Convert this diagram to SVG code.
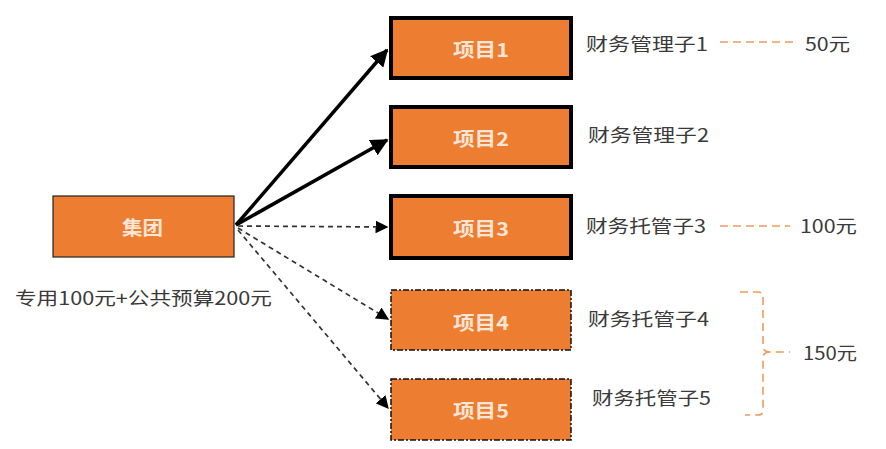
<svg xmlns="http://www.w3.org/2000/svg" width="886" height="449" viewBox="0 0 886 449">
<style>
.box{fill:#ED7D31}
.thick{stroke:#000;stroke-width:4}
.thin{stroke:#222;stroke-width:1.2}
.dash{stroke:#111;stroke-width:1.5;stroke-dasharray:6 2 2 2}
.bt{font-family:"Noto Sans CJK SC","Noto Sans",sans-serif;font-size:19px;fill:#FBE5D6;dominant-baseline:central;font-weight:bold}
.lbl{font-family:"Noto Sans CJK SC","Liberation Sans",sans-serif;font-size:18px;fill:#3a3a3a;dominant-baseline:central}
.sol{stroke:#000;stroke-width:3.5;fill:none}
.dsh{stroke:#333;stroke-width:1.7;stroke-dasharray:5 4;fill:none}
.org{stroke:#F09A60;stroke-width:1.6;stroke-dasharray:8 5;fill:none}
</style>
<defs>
<marker id="ah" viewBox="0 0 10 10" refX="9" refY="5" markerWidth="5" markerHeight="5" orient="auto" markerUnits="strokeWidth"><path d="M0,0 L10,5 L0,10 z" fill="#000"/></marker>
<marker id="ad" viewBox="0 0 10 10" refX="9" refY="5" markerWidth="7.5" markerHeight="7.5" orient="auto" markerUnits="strokeWidth"><path d="M0,0 L10,5 L0,10 z" fill="#000"/></marker>
</defs>
<g id="connectors">
<line class="sol" x1="236" y1="225" x2="387" y2="50" marker-end="url(#ah)"/>
<line class="sol" x1="236" y1="225" x2="387" y2="140" marker-end="url(#ah)"/>
<line class="dsh" x1="238" y1="226" x2="387" y2="227" marker-end="url(#ad)"/>
<line class="dsh" x1="238" y1="228" x2="388" y2="319" marker-end="url(#ad)"/>
<line class="dsh" x1="238" y1="230" x2="388" y2="408" marker-end="url(#ad)"/>
<line class="org" x1="720" y1="42" x2="795" y2="42"/>
<line class="org" x1="720" y1="226" x2="790" y2="226"/>
<path class="org" d="M740,292 H758 Q763,292 763,297 V346 Q763,352 770,352 H790 M770,352 Q763,352 763,358 V410 Q763,415 758,415 H745" stroke-dasharray="14 4 2 4"/>
</g>
<g id="jituan"><rect class="box thin" x="53" y="196" width="181" height="61"/><text class="bt" x="122" y="226" textLength="41" lengthAdjust="spacingAndGlyphs">集团</text></g>
<g id="p1"><rect class="box thick" x="391" y="18" width="180" height="60"/><text class="bt" x="453" y="48" textLength="56" lengthAdjust="spacingAndGlyphs">项目1</text></g>
<g id="p2"><rect class="box thick" x="391" y="107" width="180" height="60"/><text class="bt" x="453" y="137" textLength="56" lengthAdjust="spacingAndGlyphs">项目2</text></g>
<g id="p3"><rect class="box thick" x="391" y="196" width="180" height="62"/><text class="bt" x="453" y="227" textLength="56" lengthAdjust="spacingAndGlyphs">项目3</text></g>
<g id="p4"><rect class="box dash" x="391" y="290" width="180" height="60"/><text class="bt" x="453" y="321" textLength="56" lengthAdjust="spacingAndGlyphs">项目4</text></g>
<g id="p5"><rect class="box dash" x="391" y="379" width="180" height="61"/><text class="bt" x="453" y="409" textLength="56" lengthAdjust="spacingAndGlyphs">项目5</text></g>
<g id="labels">
<text class="lbl" x="15" y="297" textLength="257" lengthAdjust="spacingAndGlyphs">专用100元+公共预算200元</text>
<text class="lbl" x="586" y="43" textLength="122" lengthAdjust="spacingAndGlyphs">财务管理子1</text>
<text class="lbl" x="805" y="43" textLength="45" lengthAdjust="spacingAndGlyphs">50元</text>
<text class="lbl" x="588" y="134" textLength="121" lengthAdjust="spacingAndGlyphs">财务管理子2</text>
<text class="lbl" x="586" y="225" textLength="120" lengthAdjust="spacingAndGlyphs">财务托管子3</text>
<text class="lbl" x="800" y="225" textLength="57" lengthAdjust="spacingAndGlyphs">100元</text>
<text class="lbl" x="588" y="318" textLength="121" lengthAdjust="spacingAndGlyphs">财务托管子4</text>
<text class="lbl" x="592" y="397" textLength="119" lengthAdjust="spacingAndGlyphs">财务托管子5</text>
<text class="lbl" x="803" y="352" textLength="54" lengthAdjust="spacingAndGlyphs">150元</text>
</g>
</svg>
